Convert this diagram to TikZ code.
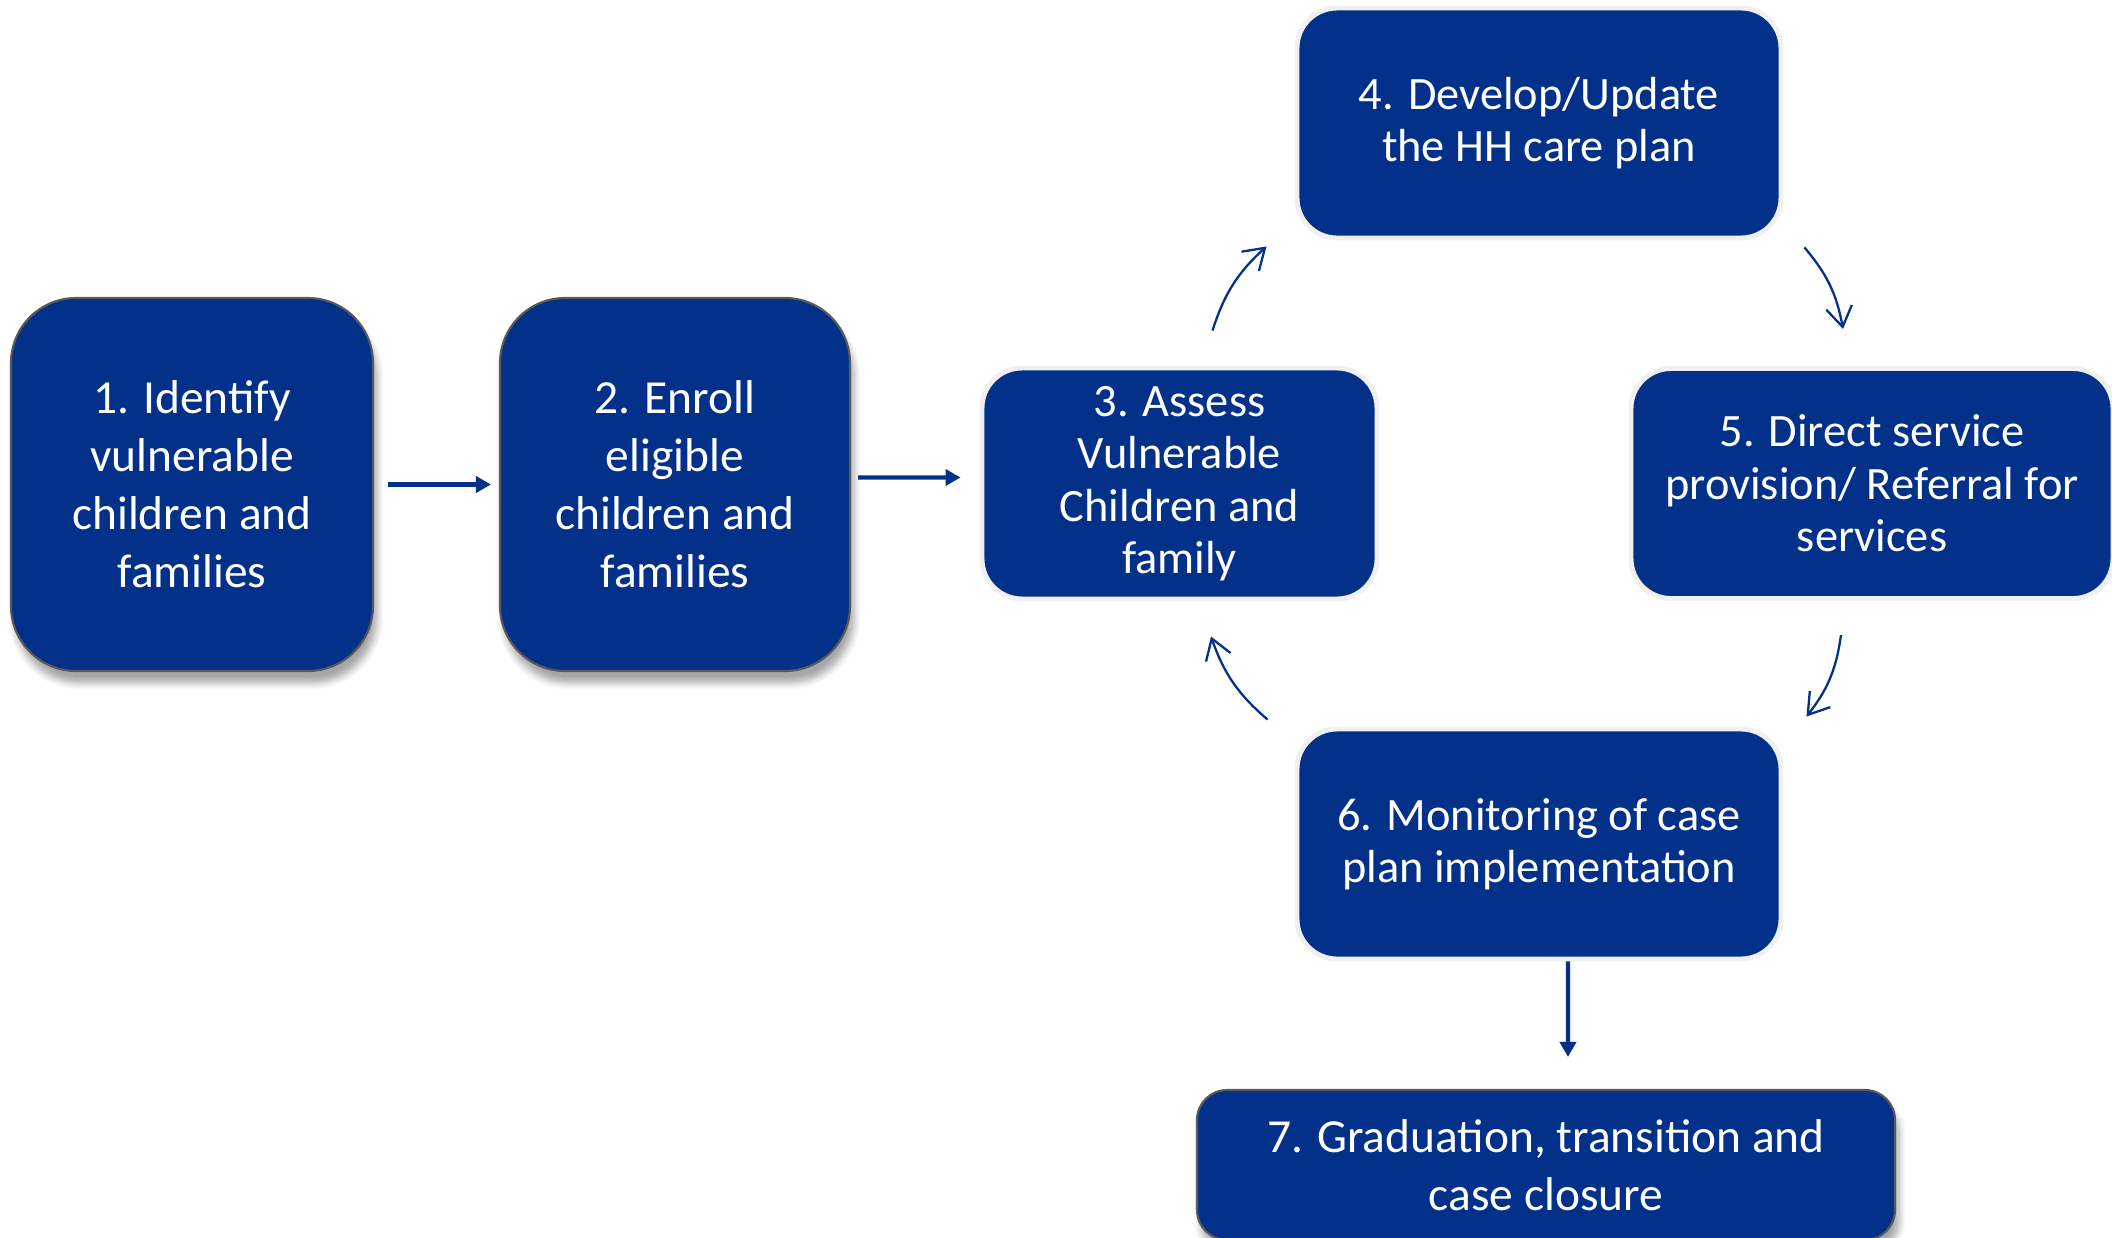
\documentclass[tikz,border=0pt]{standalone}
\usepackage{fontspec}
\setmainfont{Carlito}
\usepackage{tikz}
\usetikzlibrary{positioning,arrows.meta,shadows.blur}
\definecolor{navy}{RGB}{3,49,137}

\begin{document}
\begin{tikzpicture}[
  bigbox/.style={draw=black!65,line width=0.6pt,fill=navy,rounded corners=0.65cm,text=white,align=center,inner sep=0pt,
    font=\fontsize{13.5}{16.5}\selectfont,
    blur shadow={shadow xshift=0.4mm,shadow yshift=-1.2mm,shadow blur steps=6,shadow opacity=35}},
  cyclebox/.style={draw=black!6,line width=1.4pt,fill=navy,rounded corners=0.4cm,text=white,align=center,inner sep=0pt,
    font=\fontsize{13.2}{14.9}\selectfont,minimum width=4.84cm,minimum height=2.3cm},
  flow/.style={draw=navy,line width=1.15pt,-{Triangle[length=1.5mm,width=1.6mm]}},
  roundarrow/.style={draw=navy,line width=0.65pt,-{Straight Barb[length=2mm,width=2.6mm]},bend left=15},
]
\useasboundingbox (0,0) rectangle (21.12,12.37);

\node[bigbox,minimum width=3.62cm,minimum height=3.73cm] (b1) at (1.92,7.525) {1. Identify\\vulnerable\\children and\\families};
\node[bigbox,minimum width=3.50cm,minimum height=3.73cm] (b2) at (6.75,7.525) {2. Enroll\\eligible\\children and\\families};

% the case management cycle
\node[cyclebox,minimum width=3.95cm,minimum height=2.31cm] (b3) at (11.795,7.535) {3. Assess\\Vulnerable\\Children and\\family};
\node[cyclebox] (b4) at (15.39,11.14) {4. Develop/Update\\the HH care plan};
\node[cyclebox,minimum width=4.82cm] (b5) at (18.72,7.535) {5. Direct service\\provision/ Referral for\\services};
\node[cyclebox] (b6) at (15.39,3.93) {6. Monitoring of case\\plan implementation};

\node[bigbox,rounded corners=0.3cm,minimum width=6.98cm,minimum height=1.5cm] (b7) at (15.46,0.72) {7. Graduation, transition and\\case closure};

\draw[flow,shorten <=1.4mm,shorten >=0.8mm] (b1) -- (b2);
\draw[flow,shorten <=0.7mm,shorten >=1.9mm] ([yshift=0.7mm]b2.east) -- ([yshift=0.6mm]b3.west);
\draw[flow,shorten >=3.2mm] ([xshift=2.9mm]b6.south) -- ([xshift=2.2mm]b7.north);

\draw[roundarrow] ([shift={(0.33,0.35)}]b3.north) to ([shift={(-0.28,-0.06)}]b4.south west);
\draw[roundarrow] ([shift={(0.21,-0.07)}]b4.south east) to ([shift={(-0.29,0.37)}]b5.north);
\draw[roundarrow] ([shift={(-0.31,-0.34)}]b5.south) to ([shift={(0.23,0.10)}]b6.north east);
\draw[roundarrow] ([shift={(-0.27,0.07)}]b6.north west) to ([shift={(0.315,-0.35)}]b3.south);
\end{tikzpicture}
\end{document}
